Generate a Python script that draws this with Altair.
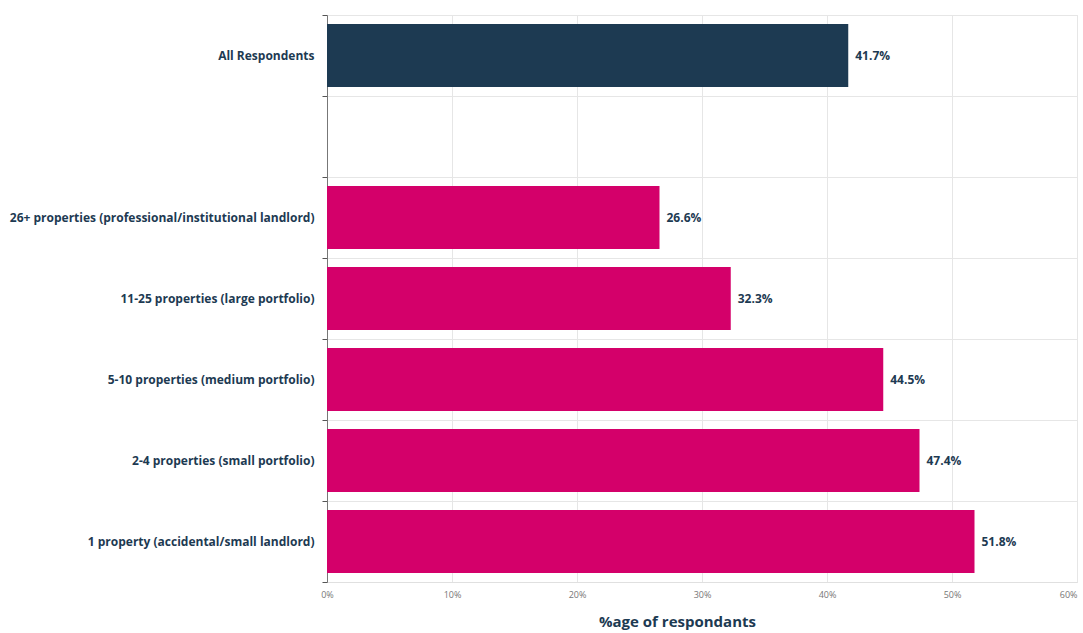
import altair as alt
import pandas as pd

categories = [
    "All Respondents",
    "26+ properties (professional/institutional landlord)",
    "11-25 properties (large portfolio)",
    "5-10 properties (medium portfolio)",
    "2-4 properties (small portfolio)",
    "1 property (accidental/small landlord)",
]
values = [41.7, 26.6, 32.3, 44.5, 47.4, 51.8]
groups = ["all", "band", "band", "band", "band", "band"]
order = [categories[0], " "] + categories[1:]
x_ticks = [0, 10, 20, 30, 40, 50, 60]

df = pd.DataFrame({"cat": categories, "val": values, "grp": groups})
df["lbl"] = df["val"].map(lambda v: f"{v:.1f}%")

navy = "#1d3a52"
pink = "#d4006a"

y_enc = alt.Y(
    "cat:N",
    scale=alt.Scale(domain=order, paddingInner=0, paddingOuter=0),
    axis=alt.Axis(
        title=None,
        tickBand="extent",
        grid=True,
        gridColor="#e6e6e6",
        ticks=True,
        tickSize=5,
        tickColor="#555555",
        domainColor="#777777",
        labelFont="Open Sans",
        labelFontWeight="bold",
        labelFontSize=12,
        labelColor=navy,
        labelPadding=8,
        labelLimit=400,
    ),
)

x_enc = alt.X(
    "val:Q",
    scale=alt.Scale(domain=[0, 60], nice=False),
    axis=alt.Axis(
        values=x_ticks,
        labelExpr="datum.value + '%'",
        labelFlush=False,
        labelAlign={"condition": {"test": "datum.value >= 60", "value": "right"}, "value": "center"},
        title="%age of respondants",
        titleFont="Open Sans",
        titleFontWeight="bold",
        titleFontSize=15,
        titleColor=navy,
        titlePadding=15,
        titleX=350,
        titleAlign="center",
        labelFont="Open Sans",
        labelFontSize=9,
        labelColor="#777777",
        labelPadding=8,
        ticks=False,
        grid=True,
        gridColor="#e6e6e6",
        domainColor="#e0e0e0",
    ),
)

bars = alt.Chart(df).mark_bar(height=alt.RelativeBandSize(band=0.78)).encode(
    y=y_enc,
    x=x_enc,
    color=alt.Color("grp:N", scale=alt.Scale(domain=["all", "band"], range=[navy, pink]), legend=None),
)

text = alt.Chart(df).mark_text(
    align="left", baseline="middle", dx=7, font="Open Sans", fontWeight="bold", fontSize=12, color=navy
).encode(y=alt.Y("cat:N"), x=alt.X("val:Q"), text="lbl:N")

chart = (
    alt.layer(bars, text)
    .properties(
        width=750,
        height=567,
        autosize=alt.AutoSizeParams(type="none"),
        padding={"left": 327, "top": 15, "right": 6, "bottom": 51},
    )
    .configure_view(stroke="#e0e0e0")
)

chart.save("out.html", embed_options={"renderer": "svg", "actions": False})
